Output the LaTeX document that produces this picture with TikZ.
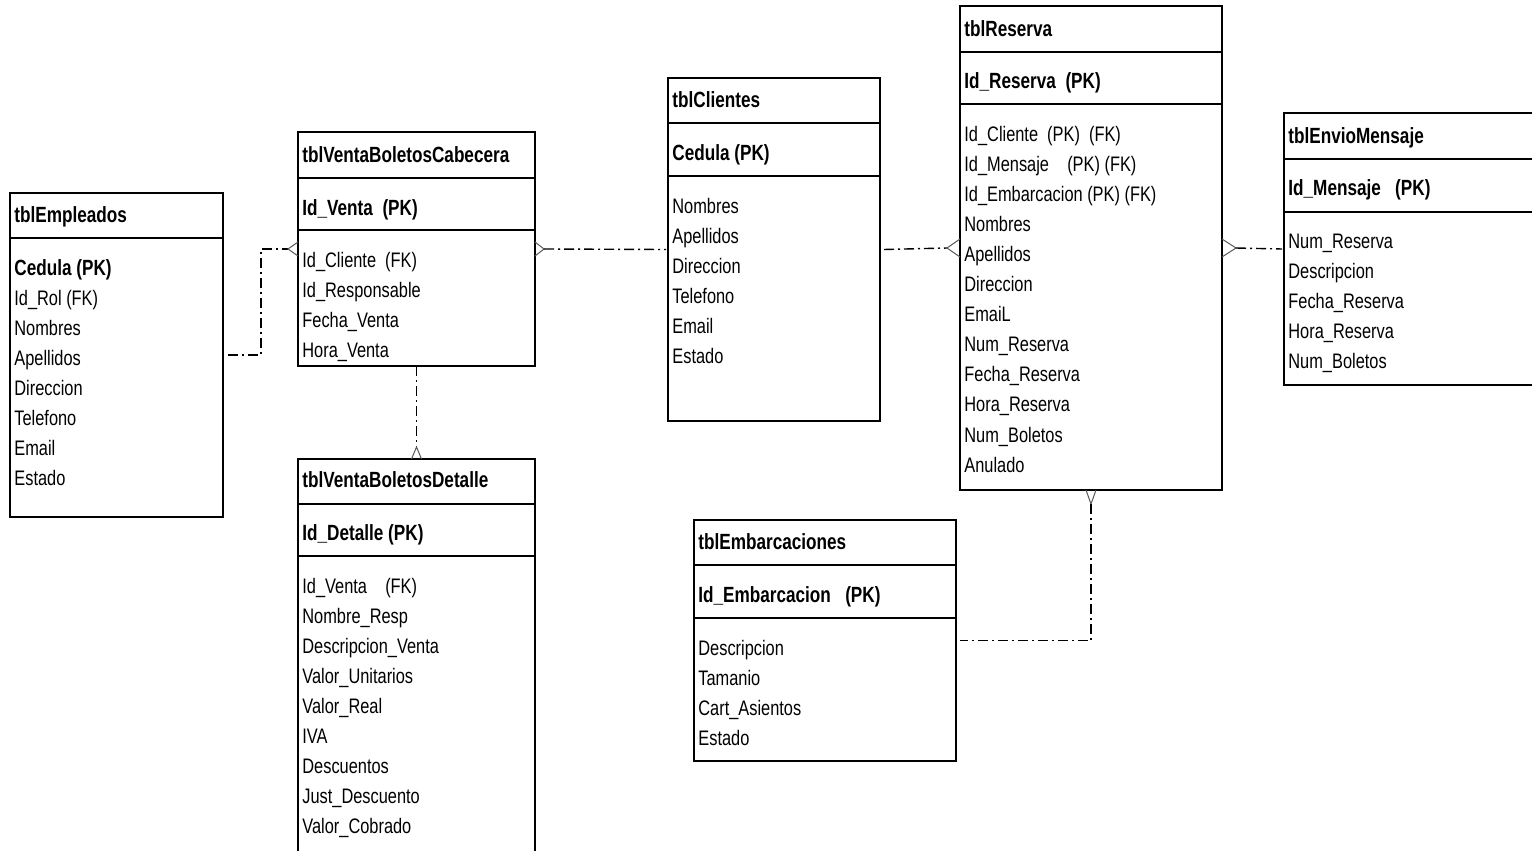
\documentclass[tikz,border=0pt]{standalone}
\usepackage{fontspec}
\setmainfont{Liberation Sans}[FakeStretch=0.78]
\usetikzlibrary{calc}

% table frame from its corners (x1,y1) to (x2,y2), in pixel units
\newcommand\tablebox[5]{%
  \node[tblbox, minimum width={(#4-#2)*0.5pt}, minimum height={(#5-#3)*0.5pt}]
    (#1) at ({(#2+#4)/2},{(#3+#5)/2}) {};}
% horizontal rule across a table at height #2
\newcommand\tablerule[2]{\draw[tblrule] (#1.west |- 0,#2) -- (#1.east |- 0,#2);}

\begin{document}
\begin{tikzpicture}[x=0.5pt,y=-0.5pt,
  tblbox/.style={draw, line width=1pt, rectangle, inner sep=0pt, outer sep=0pt},
  tblrule/.style={line width=1pt},
  ttl/.style={anchor=base west, inner sep=0pt, font=\fontsize{11}{13}\selectfont\bfseries},
  attr/.style={anchor=base west, inner sep=0pt, font=\fontsize{10.5}{12}\selectfont},
  rel/.style={line width=0.7pt, dash pattern=on 5pt off 2pt on 1pt off 2pt},
  foot/.style={line width=0.5pt, draw=black!65}]

\useasboundingbox (0,0) rectangle (1532,851);
\clip (0,0) rectangle (1532,851);
\fill[white] (0,0) rectangle (1532,851);

% ---------- tblEmpleados ----------
\tablebox{emp}{10}{193}{223}{517}
\tablerule{emp}{238}
\node[ttl] (emp-t) at (14,222) {tblEmpleados};
\node[ttl] (emp-pk) at (14,275) {Cedula (PK)};
\foreach \t [count=\i] in {Id\_Rol (FK), Nombres, Apellidos, Direccion, Telefono, Email, Estado}
  \node[attr] (emp-a\i) at (14,{305+30*(\i-1)}) {\t};

% ---------- tblVentaBoletosCabecera ----------
\tablebox{cab}{298}{132}{535}{366}
\tablerule{cab}{178}
\tablerule{cab}{230}
\node[ttl] (cab-t) at (302,162) {tblVentaBoletosCabecera};
\node[ttl] (cab-pk) at (302,215) {Id\_Venta\ \ (PK)};
\foreach \t [count=\i] in {Id\_Cliente\ \ (FK), Id\_Responsable, Fecha\_Venta, Hora\_Venta}
  \node[attr] (cab-a\i) at (302,{267+30*(\i-1)}) {\t};

% ---------- tblVentaBoletosDetalle ----------
\tablebox{det}{298}{459}{535}{900}
\tablerule{det}{504}
\tablerule{det}{556}
\node[ttl] (det-t) at (302,487) {tblVentaBoletosDetalle};
\node[ttl] (det-pk) at (302,540) {Id\_Detalle (PK)};
\foreach \t [count=\i] in {Id\_Venta\ \ \ \ (FK), Nombre\_Resp, Descripcion\_Venta, Valor\_Unitarios, Valor\_Real, IVA, Descuentos, Just\_Descuento, Valor\_Cobrado}
  \node[attr] (det-a\i) at (302,{593+30*(\i-1)}) {\t};

% ---------- tblClientes ----------
\tablebox{cli}{668}{78}{880}{421}
\tablerule{cli}{123}
\tablerule{cli}{176}
\node[ttl] (cli-t) at (672,107) {tblClientes};
\node[ttl] (cli-pk) at (672,160) {Cedula (PK)};
\foreach \t [count=\i] in {Nombres, Apellidos, Direccion, Telefono, Email, Estado}
  \node[attr] (cli-a\i) at (672,{213+30*(\i-1)}) {\t};

% ---------- tblReserva ----------
\tablebox{res}{960}{6}{1222}{490}
\tablerule{res}{52}
\tablerule{res}{104}
\node[ttl] (res-t) at (964,36) {tblReserva};
\node[ttl] (res-pk) at (964,88) {Id\_Reserva\ \ (PK)};
\foreach \t [count=\i] in {Id\_Cliente\ \ (PK)\ \ (FK), Id\_Mensaje\ \ \ \ (PK) (FK), Id\_Embarcacion (PK) (FK), Nombres, Apellidos, Direccion, EmaiL, Num\_Reserva, Fecha\_Reserva, Hora\_Reserva, Num\_Boletos, Anulado}
  \node[attr] (res-a\i) at (964,{141+30.1*(\i-1)}) {\t};

% ---------- tblEnvioMensaje ----------
\tablebox{env}{1284}{113}{1570}{385}
\tablerule{env}{159}
\tablerule{env}{212}
\node[ttl] (env-t) at (1288,143) {tblEnvioMensaje};
\node[ttl] (env-pk) at (1288,195) {Id\_Mensaje\ \ \ (PK)};
\foreach \t [count=\i] in {Num\_Reserva, Descripcion, Fecha\_Reserva, Hora\_Reserva, Num\_Boletos}
  \node[attr] (env-a\i) at (1288,{248+30*(\i-1)}) {\t};

% ---------- tblEmbarcaciones ----------
\tablebox{emb}{694}{520}{956}{761}
\tablerule{emb}{565}
\tablerule{emb}{618}
\node[ttl] (emb-t) at (698,549) {tblEmbarcaciones};
\node[ttl] (emb-pk) at (698,602) {Id\_Embarcacion\ \ \ (PK)};
\foreach \t [count=\i] in {Descripcion, Tamanio, Cart\_Asientos, Estado}
  \node[attr] (emb-a\i) at (698,{655+30*(\i-1)}) {\t};

% ---------- relationships ----------
% tblEmpleados -> tblVentaBoletosCabecera
\draw[rel] ([xshift=2.5pt]emp.east) -| ([xshift=-18.5pt]cab.west) -- ([xshift=-5pt]cab.west);
\draw[foot] ([yshift=3.5pt]cab.west) -- ([xshift=-5pt]cab.west) -- ([yshift=-3.5pt]cab.west);

% tblVentaBoletosCabecera -> tblClientes
\draw[foot] ([yshift=3.5pt]cab.east) -- ([xshift=4.5pt]cab.east) -- ([yshift=-3.5pt]cab.east);
\draw[rel] ([xshift=4.5pt]cab.east) -- ([xshift=-1pt]cli.west);

% tblVentaBoletosCabecera -> tblVentaBoletosDetalle
\draw[rel] (cab.south) -- ([yshift=6pt]det.north);
\draw[foot] ([xshift=-2.5pt]det.north) -- ([yshift=6pt]det.north) -- ([xshift=2.5pt]det.north);

% tblClientes -> tblReserva
\draw[rel] ([xshift=2pt]cli.east) -- ([xshift=-6.5pt]res.west);
\draw[foot] ([yshift=4.5pt]res.west) -- ([xshift=-6.5pt]res.west) -- ([yshift=-4.5pt]res.west);

% tblReserva -> tblEnvioMensaje
\draw[foot] ([yshift=4.5pt]res.east) -- ([xshift=7pt]res.east) -- ([yshift=-4.5pt]res.east);
\draw[rel] ([xshift=7pt]res.east) -- ([xshift=-1pt]env.west);

% tblReserva -> tblEmbarcaciones
\draw[foot] ([xshift=-2.5pt]res.south) -- ([yshift=-7pt]res.south) -- ([xshift=2.5pt]res.south);
\draw[rel] ([yshift=-7pt]res.south) |- ([xshift=2pt]emb.east);

\end{tikzpicture}
\end{document}
